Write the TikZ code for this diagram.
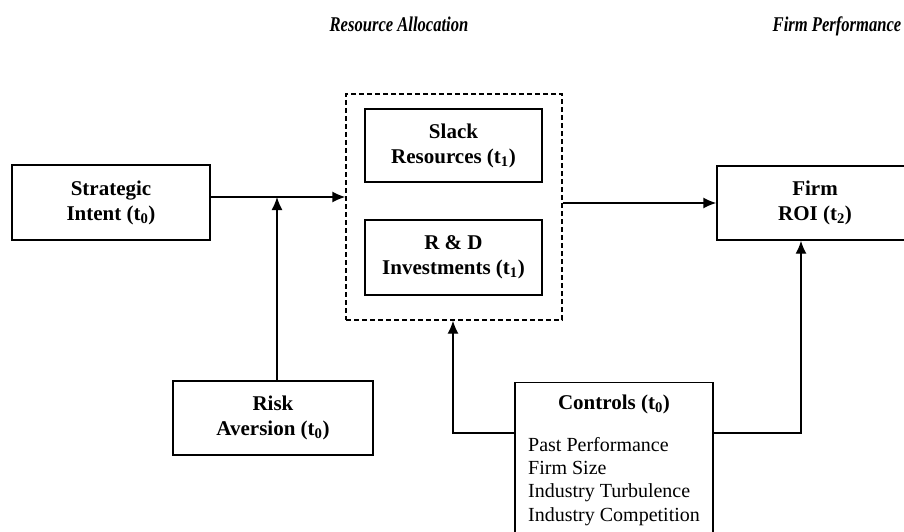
\documentclass[tikz,border=0pt]{standalone}
\usepackage{fontspec}
\usepackage{graphicx}
\setmainfont{Liberation Serif}
\usetikzlibrary{positioning,arrows.meta}

\begin{document}
\begin{tikzpicture}[x=1pt,y=-1pt,
        box/.style={draw, line width=1.4pt, align=center, inner sep=0pt,
            font=\fontsize{21}{25}\selectfont\bfseries},
        group/.style={draw, dash pattern=on 5pt off 3pt, line width=1.4pt},
        link/.style={line width=1.4pt, ->, >={Latex[length=13pt,width=11pt]}},
        heading/.style={anchor=base, font=\fontsize{21}{24}\selectfont\bfseries\itshape},
        itemlist/.style={align=left, inner sep=0pt, font=\fontsize{20}{23.3}\selectfont}]
    \useasboundingbox (0,0) rectangle (904,532);
    \clip (0,0) rectangle (904,532);

    % headings
    \node[heading] (ra) at (399,32) {\scalebox{0.79}[1]{Resource Allocation}};
    \node[heading] (fp) at (837,32) {\scalebox{0.79}[1]{Firm Performance}};

    % boxes
    \node[box, minimum width=198, minimum height=75] (intent) at (111,202.5)
        {Strategic\\Intent (t\textsubscript{0})};
    \node[box, minimum width=200, minimum height=74] (risk) at (273,418)
        {Risk\\Aversion (t\textsubscript{0})};
    \node[group, minimum width=216, minimum height=226] (alloc) at (454,207) {};
    \node[box, minimum width=177, minimum height=73] (slack) at (453.5,145.5)
        {Slack\\Resources (t\textsubscript{1})};
    \node[box, minimum width=177, minimum height=75] (rd) at (453.5,257.5)
        {R \& D\\Investments (t\textsubscript{1})};
    \node[box, minimum width=196, minimum height=74] (roi) at (815,203)
        {Firm\\ROI (t\textsubscript{2})};
    \node[box, minimum width=198, minimum height=178, anchor=north] (controls) at (614,382) {};
    \node[font=\fontsize{21}{25}\selectfont\bfseries] (ctitle) at (614,404)
        {Controls (t\textsubscript{0})};
    \node[itemlist, anchor=north west] (clist) at (528,437)
        {Past Performance\\Firm Size\\Industry Turbulence\\Industry Competition};

    % connectors
    \coordinate (j1) at (277,197);
    \coordinate (c1) at (801,433);
    \coordinate (c2) at (453,433);
    \draw[link] (intent.east |- j1) -- (alloc.west |- j1);
    \draw[link] (risk.north -| j1) -- (j1);
    \draw[link] (alloc.east |- roi.west) -- (roi.west);
    \draw[link] (controls.east |- c1) -- (c1) -- (roi.south -| c1);
    \draw[link] (controls.west |- c2) -- (c2) -- (alloc.south -| c2);
\end{tikzpicture}
\end{document}
